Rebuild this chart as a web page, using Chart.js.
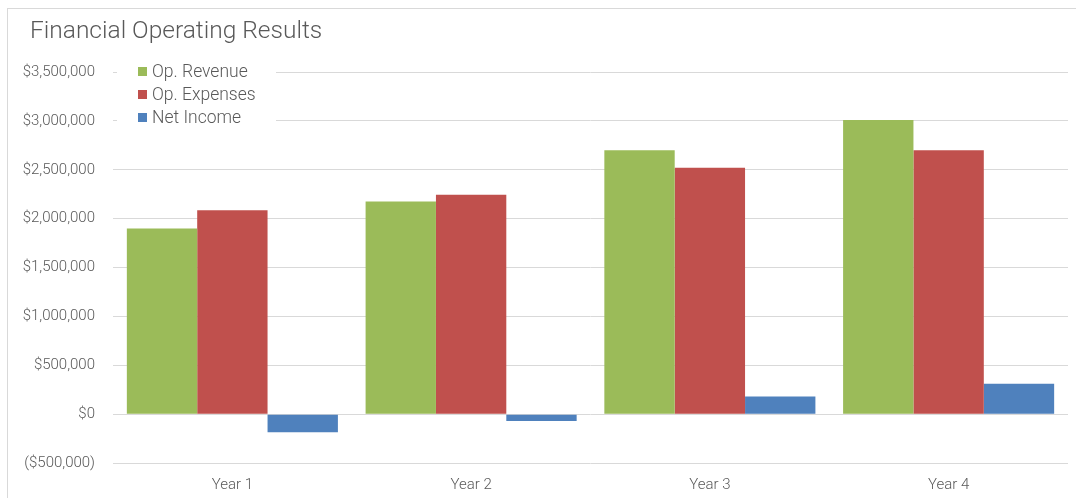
<!DOCTYPE html>
<html>
<head>
<meta charset="utf-8">
<title>Financial Operating Results</title>
<script src="https://cdn.jsdelivr.net/npm/chart.js@4/dist/chart.umd.min.js"></script>
<style>
  html, body { margin: 0; padding: 0; background: #fff; }
  #wrap { position: relative; width: 1076px; height: 498px; overflow: hidden; }
  #frame {
    position: absolute; left: 7px; top: 8px; width: 1100px; height: 520px;
    border-top: 1px solid #d9d9d9; border-left: 1px solid #d9d9d9;
  }
  canvas { position: absolute; left: 0; top: 0; }
</style>
</head>
<body>
<div id="wrap">
  <div id="frame"></div>
  <canvas id="chart" width="1076" height="498"></canvas>
</div>
<script>
// Operating results per year
const years = ['Year 1', 'Year 2', 'Year 3', 'Year 4'];
const revenue = [1900000, 2175000, 2700000, 3010000];
const expenses = [2085000, 2245000, 2520000, 2700000];
const netIncome = [-185000, -70000, 180000, 310000];

const seriesNames = ['Op. Revenue', 'Op. Expenses', 'Net Income'];
const seriesColors = ['#9bbb59', '#c0504d', '#4f81bd'];

const textColor = '#595959';
const gridColor = '#d9d9d9';

function money(v) {
    const s = '$' + Math.abs(v).toLocaleString('en-US');
    return v < 0 ? '(' + s + ')' : s;
}

// Title plus a legend box that sits inside the plot, over the gridlines
const overlay = {
    id: 'overlay',
    afterDatasetsDraw(chart) {
        const ctx = chart.ctx;
        ctx.save();
        ctx.fillStyle = textColor;
        ctx.textBaseline = 'middle';
        ctx.textAlign = 'left';
        ctx.font = '300 24.5px Roboto';
        ctx.fillText('Financial Operating Results', 30, 32);

        ctx.fillStyle = '#ffffff';
        ctx.fillRect(117, 60, 159, 68);
        ctx.font = '300 17.5px Roboto';
        chart.data.datasets.forEach((ds, i) => {
            const y = 72 + i * 23;
            ctx.fillStyle = ds.backgroundColor;
            ctx.fillRect(138, y - 5, 9, 9);
            ctx.fillStyle = textColor;
            ctx.fillText(ds.label, 152, y + 1);
        });
        ctx.restore();
    }
};

new Chart(document.getElementById('chart'), {
    type: 'bar',
    data: {
        labels: years,
        datasets: [revenue, expenses, netIncome].map((values, i) => ({
            label: seriesNames[i],
            data: values,
            backgroundColor: seriesColors[i],
            borderWidth: 0,
            categoryPercentage: 0.884,
            barPercentage: 1
        }))
    },
    options: {
        responsive: false,
        animation: false,
        layout: { padding: { left: 0, top: 72, right: 8, bottom: 0 } },
        plugins: {
            legend: { display: false },
            title: { display: false },
            tooltip: { enabled: false }
        },
        scales: {
            x: {
                afterFit(scale) { scale.height = 35; },
                grid: { display: false },
                border: { display: false },
                ticks: {
                    color: textColor,
                    padding: 5,
                    font: { family: 'Roboto', size: 15, weight: '300' }
                }
            },
            y: {
                min: -500000,
                max: 3500000,
                afterFit(scale) { scale.width = 113; },
                grid: { color: gridColor, lineWidth: 1, drawTicks: false },
                border: { display: false },
                ticks: {
                    stepSize: 500000,
                    padding: 18,
                    color: textColor,
                    font: { family: 'Roboto', size: 15, weight: '300' },
                    callback: v => money(v)
                }
            }
        }
    },
    plugins: [overlay]
});
</script>
</body>
</html>
